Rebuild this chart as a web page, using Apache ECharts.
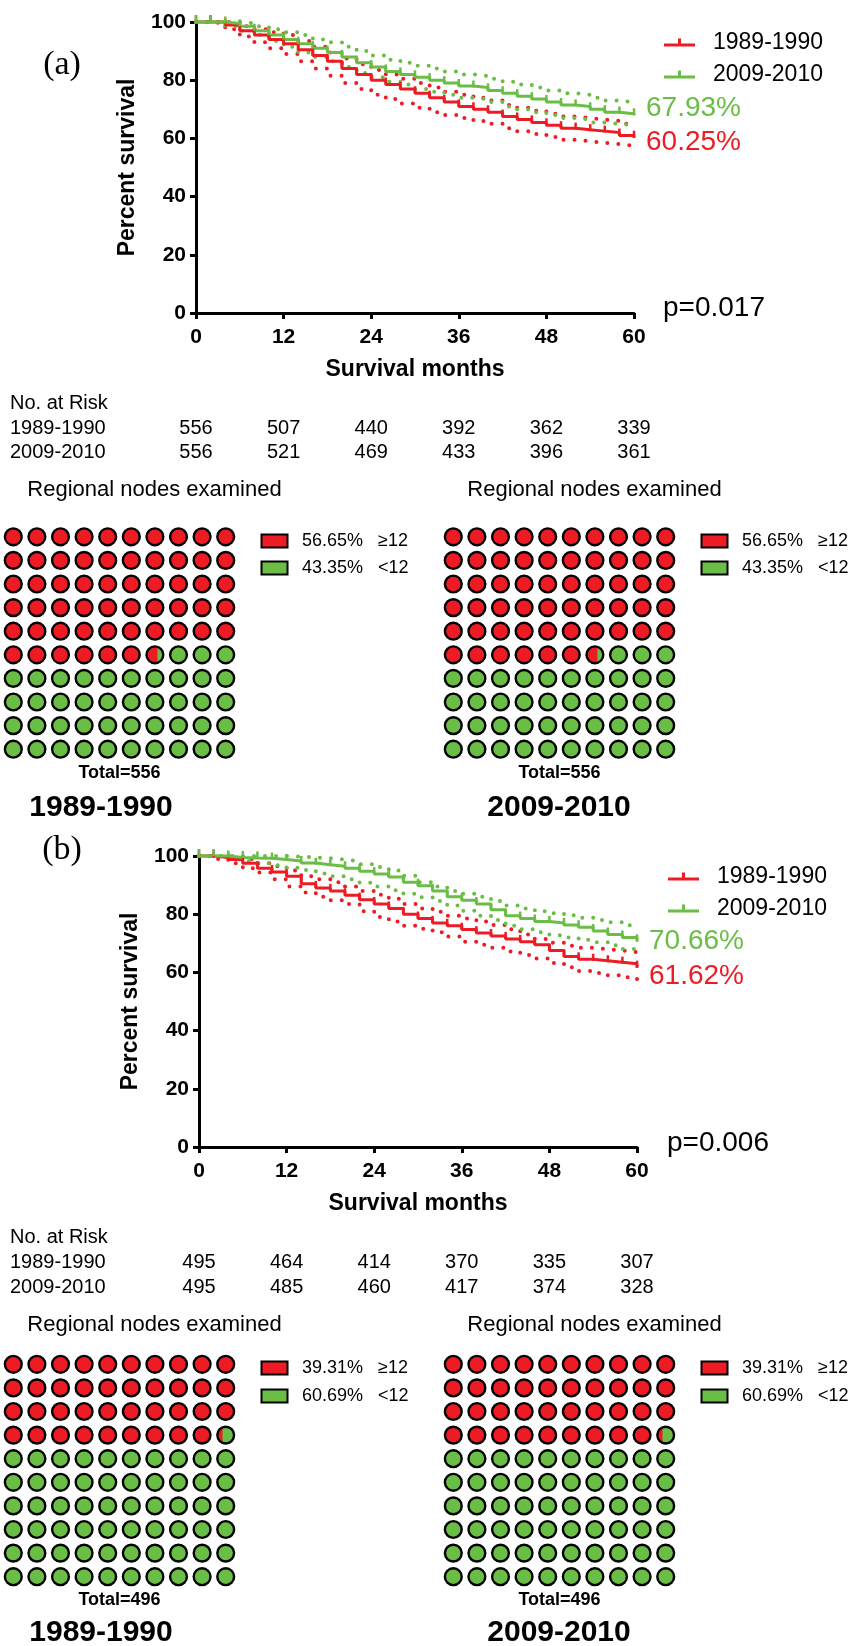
<!DOCTYPE html>
<html>
<head>
<meta charset="utf-8">
<title>Survival by era and regional nodes examined</title>
<script src="https://cdn.jsdelivr.net/npm/echarts@6/dist/echarts.min.js"></script>
<style>
  html, body { margin: 0; padding: 0; background: #fff; }
  #main { width: 856px; height: 1646px; }
</style>
</head>
<body>
<div id="main"></div>
<script>
// ---- data ----
const cohorts = ['1989-1990', '2009-2010'];
const nodeGroups = ['≥12', '<12'];
const months = [0, 2, 4, 6, 8, 10, 12, 14, 16, 18, 20, 22, 24, 26, 28, 30,
  32, 34, 36, 38, 40, 42, 44, 46, 48, 50, 52, 54, 56, 58, 60];
const riskMonths = [0, 12, 24, 36, 48, 60];

// panel (a)
const survA1989 = [100, 100, 99, 97, 95.5, 94, 92.5, 90.5, 88.5, 86.5, 84, 82, 80, 78.5, 77, 75.5,
  74, 72.5, 71, 70, 69, 67.5, 66.5, 65.5, 64.5, 63.5, 63, 62.5, 62, 61, 60.25];
const survA1989Lo = [100, 99.5, 97.5, 95, 93, 91, 89, 86.5, 84, 81.5, 79, 77, 75, 73.5, 72, 70.5,
  69, 68, 67, 66, 65, 63.5, 62.5, 61.5, 60.5, 59.5, 59, 58.5, 58, 57.5, 57];
const survA1989Hi = [100, 100, 100, 98.5, 97.5, 96.5, 95.5, 93.5, 91.5, 89.5, 87.5, 85.5, 83.5, 82, 80.5, 79,
  77.5, 76, 75, 74, 73, 71.5, 70.5, 69.5, 68.5, 67.5, 67, 66.5, 66, 65, 64.5];
const survA2009 = [100, 100, 99.5, 98.5, 97, 95.5, 94, 92.5, 91, 89.5, 88, 86, 84.5, 83, 82, 81,
  80, 79, 78, 77.5, 76.5, 75.5, 74.5, 73.5, 72.5, 71.5, 71, 70, 69, 68.5, 67.93];
const survA2009Lo = [100, 100, 98.5, 97, 95.5, 93.5, 91.5, 89.5, 88, 86.5, 84.5, 82.5, 81, 79.5, 78.5, 77,
  76, 75, 74, 73.5, 72.5, 71, 70, 69, 68, 67, 66.5, 65.5, 65, 64.5, 64];
const survA2009Hi = [100, 100, 100, 99.5, 98.5, 97.5, 96.5, 95.5, 94, 93, 91.5, 90, 88.5, 87, 86, 85,
  84, 83, 82, 81.5, 80.5, 79.5, 78.5, 77.5, 76.5, 75.5, 75, 74, 73, 72.5, 72];
const pValueA = 'p=0.017';
const riskA1989 = [556, 507, 440, 392, 362, 339];
const riskA2009 = [556, 521, 469, 433, 396, 361];
const nodesA1989 = [56.65, 43.35];
const nodesA2009 = [56.65, 43.35];
const totalsA = [556, 556];

// panel (b)
const survB1989 = [100, 99.5, 98.8, 97.5, 95.8, 94.5, 93, 90.5, 89, 88, 86.5, 85, 83.5, 82, 80, 78.5,
  77, 76, 74.7, 73.5, 72.5, 71.5, 70.5, 69.5, 67.5, 65.5, 64.5, 64, 63.5, 63, 61.62];
const survB1989Lo = [100, 99, 97.5, 95.8, 94.3, 92, 89.5, 87.5, 86, 84.8, 83.5, 81, 79, 77.5, 76, 75,
  73.8, 72.3, 70.5, 69.5, 68.5, 67.2, 66, 64.8, 63.2, 61.8, 60.5, 59.8, 59, 58.3, 57.6];
const survB1989Hi = [100, 100, 99.8, 99, 97.5, 96.5, 95, 93, 92, 91, 89.5, 88, 86.7, 85.3, 83.5, 82,
  80.8, 79.5, 78.5, 77.5, 76.3, 74.8, 73, 71.5, 70.2, 69.2, 68.5, 68, 67.5, 67, 66.5];
const survB2009 = [100, 100, 99.5, 99.3, 99.2, 98.8, 98.3, 97.6, 97, 96.5, 95.8, 94.8, 93.8, 92.8, 91, 89.8,
  88, 86, 84.8, 83.5, 81.5, 79.5, 78.5, 77.5, 77, 76.3, 75.5, 74.2, 73, 72, 70.66];
const survB2009Lo = [100, 100, 99, 98.2, 97.5, 96.8, 96, 95.2, 94, 93, 92, 90.8, 89.5, 88.2, 87, 85.8,
  84.5, 83, 81.2, 79.5, 78, 76, 74.8, 73.8, 72.8, 72, 71.2, 70.4, 69.3, 68, 66.8];
const survB2009Hi = [100, 100, 100, 100, 100, 100, 99.8, 99.5, 99.2, 98.8, 98.2, 97.2, 96.2, 95, 93.2, 91,
  89.5, 88, 87, 86, 84.5, 83, 82, 81, 80.3, 79.6, 78.8, 78, 77.2, 76.2, 75.3];
const pValueB = 'p=0.006';
const riskB1989 = [495, 464, 414, 370, 335, 307];
const riskB2009 = [495, 485, 460, 417, 374, 328];
const nodesB1989 = [39.31, 60.69];
const nodesB2009 = [39.31, 60.69];
const totalsB = [496, 496];

// ---- style ----
const RED = '#ED1C24';
const GREEN = '#6ABD45';
const FONT = "'Liberation Sans', Arial, Helvetica, sans-serif";
const SERIF = "'Liberation Serif', 'Times New Roman', serif";
// line with a small censor tick, used as legend icon
const TICK_ICON = 'path://M0,5 L14,5 L14,0 L17,0 L17,5 L31,5 L31,8 L0,8 Z';

// where each panel sits on the page
const panels = [
  {
    tag: '(a)', tagPos: [62, 65], grid: { left: 196, top: 22, width: 438, height: 291 },
    legendPos: [664, 31], pValue: pValueA, pPos: [663, 308], endDy: [5, -7],
    surv: [survA1989, survA2009], lo: [survA1989Lo, survA2009Lo], hi: [survA1989Hi, survA2009Hi],
    risk: [riskA1989, riskA2009], riskY: [403, 428, 452],
    nodes: [nodesA1989, nodesA2009], totals: totalsA,
    regionalY: 490, waffleTop: 525, keyY: [541, 568], totalY: 773, yearY: 808
  },
  {
    tag: '(b)', tagPos: [62, 850], grid: { left: 199, top: 856, width: 438, height: 291 },
    legendPos: [668, 865], pValue: pValueB, pPos: [667, 1143], endDy: [9, 0],
    surv: [survB1989, survB2009], lo: [survB1989Lo, survB2009Lo], hi: [survB1989Hi, survB2009Hi],
    risk: [riskB1989, riskB2009], riskY: [1237, 1262, 1287],
    nodes: [nodesB1989, nodesB2009], totals: totalsB,
    regionalY: 1325, waffleTop: 1352.5, keyY: [1368, 1396], totalY: 1600, yearY: 1633
  }
];
const waffleLeft = [1.5, 441.5];
const cellSize = 23.6;

function pairs(ys) {
  return months.map((m, i) => [m, ys[i]]);
}

function waffleCells(pctHigh) {
  const cells = [];
  for (let k = 0; k < 100; k++) {
    const f = Math.max(0, Math.min(1, pctHigh - k));
    cells.push([k % 10, Math.floor(k / 10), f]);
  }
  return cells;
}

function renderCell(params, api) {
  const c = api.coord([api.value(0), api.value(1)]);
  const f = api.value(2);
  const r = 8.4;
  const children = [{
    type: 'circle', shape: { cx: c[0], cy: c[1], r: r },
    style: { fill: f >= 1 ? RED : GREEN }
  }];
  if (f > 0 && f < 1) {
    // red part left of a vertical chord
    const a0 = Math.acos((-r + 2 * r * f) / r);
    const pts = [];
    const n = 40;
    for (let i = 0; i <= n; i++) {
      const t = a0 + (2 * Math.PI - 2 * a0) * i / n;
      pts.push([c[0] + r * Math.cos(t), c[1] + r * Math.sin(t)]);
    }
    children.push({ type: 'polygon', shape: { points: pts }, style: { fill: RED } });
  }
  children.push({
    type: 'circle', shape: { cx: c[0], cy: c[1], r: r },
    style: { fill: null, stroke: '#000', lineWidth: 2.4 }
  });
  return { type: 'group', children: children };
}

const grids = [];
const xAxes = [];
const yAxes = [];
const series = [];
const legends = [];

panels.forEach((p, pi) => {
  const gi = grids.length;
  grids.push(p.grid);
  xAxes.push({
    gridIndex: gi, type: 'value', min: 0, max: 60, interval: 12,
    name: 'Survival months', nameLocation: 'middle', nameGap: 45,
    nameTextStyle: { fontFamily: FONT, fontWeight: 'bold', fontSize: 23, color: '#000' },
    axisLine: { lineStyle: { color: '#000', width: 3 } },
    axisTick: { length: 6, lineStyle: { color: '#000', width: 3 } },
    axisLabel: { fontFamily: FONT, fontWeight: 'bold', fontSize: 21, color: '#000', margin: 14 },
    splitLine: { show: false }
  });
  yAxes.push({
    gridIndex: gi, type: 'value', min: 0, max: 100, interval: 20,
    name: 'Percent survival', nameLocation: 'middle', nameGap: 57, nameRotate: 90,
    nameTextStyle: { fontFamily: FONT, fontWeight: 'bold', fontSize: 23, color: '#000' },
    axisLine: { show: true, lineStyle: { color: '#000', width: 3 } },
    axisTick: { show: true, length: 6, lineStyle: { color: '#000', width: 3 } },
    axisLabel: { fontFamily: FONT, fontWeight: 'bold', fontSize: 21, color: '#000', margin: 10 },
    splitLine: { show: false }
  });

  cohorts.forEach((name, ci) => {
    const color = ci === 0 ? RED : GREEN;
    [p.lo[ci], p.hi[ci]].forEach((band) => {
      series.push({
        name: name + ' CI', type: 'line', xAxisIndex: gi, yAxisIndex: gi,
        data: pairs(band), step: 'end', showSymbol: false, silent: true, clip: false,
        lineStyle: { color: color, width: 4, type: [0, 11], cap: 'round' },
        z: 2
      });
    });
  });
  cohorts.forEach((name, ci) => {
    const color = ci === 0 ? RED : GREEN;
    series.push({
      name: name, type: 'line', xAxisIndex: gi, yAxisIndex: gi,
      data: pairs(p.surv[ci]), step: 'end', clip: false,
      color: color,
      symbol: 'rect', symbolSize: [2.5, 7], symbolOffset: [0, -3.5], showSymbol: true,
      itemStyle: { color: color },
      lineStyle: { color: color, width: 3 },
      endLabel: {
        show: true, distance: 12, offset: [0, p.endDy[ci]],
        formatter: (d) => d.value[1].toFixed(2) + '%',
        fontFamily: FONT, fontSize: 28, color: color
      },
      z: 3
    });
  });

  legends.push({
    data: cohorts, orient: 'vertical', left: p.legendPos[0], top: p.legendPos[1],
    icon: TICK_ICON, itemWidth: 31, itemHeight: 8, itemGap: 9, padding: 0,
    selectedMode: false,
    textStyle: { fontFamily: FONT, fontSize: 23, color: '#000', padding: [0, 0, 0, 13] }
  });

  // two waffles per panel
  cohorts.forEach((name, ci) => {
    const wi = grids.length;
    grids.push({ left: waffleLeft[ci], top: p.waffleTop, width: cellSize * 10, height: cellSize * 10 });
    xAxes.push({ gridIndex: wi, type: 'value', min: -0.5, max: 9.5, show: false });
    yAxes.push({ gridIndex: wi, type: 'value', min: -0.5, max: 9.5, inverse: true, show: false });
    series.push({
      type: 'custom', xAxisIndex: wi, yAxisIndex: wi, silent: true,
      data: waffleCells(p.nodes[ci][0]), renderItem: renderCell
    });
  });
});

const chart = echarts.init(document.getElementById('main'), null, { renderer: 'canvas' });
chart.setOption({
  animation: false,
  backgroundColor: '#fff',
  grid: grids,
  xAxis: xAxes,
  yAxis: yAxes,
  legend: legends,
  series: series
});

// texts: panel tags, p values, number at risk table, waffle keys and captions
function txt(x, y, text, opts) {
  return {
    type: 'text', x: x, y: y, silent: true,
    style: Object.assign({
      text: text, fill: '#000', fontFamily: FONT, fontSize: 20,
      textAlign: 'left', textVerticalAlign: 'middle'
    }, opts || {})
  };
}

const graphics = [];
panels.forEach((p, pi) => {
  graphics.push(txt(p.tagPos[0], p.tagPos[1], p.tag,
    { fontFamily: SERIF, fontSize: 34, textAlign: 'center' }));
  graphics.push(txt(p.pPos[0], p.pPos[1], p.pValue, { fontSize: 28 }));

  graphics.push(txt(10, p.riskY[0], 'No. at Risk', { fontSize: 20 }));
  cohorts.forEach((name, ci) => {
    const y = p.riskY[ci + 1];
    graphics.push(txt(10, y, name, { fontSize: 20 }));
    riskMonths.forEach((m, k) => {
      const x = chart.convertToPixel({ xAxisIndex: pi * 3 }, m);
      graphics.push(txt(x, y, String(p.risk[ci][k]), { fontSize: 20, textAlign: 'center' }));
    });
  });

  cohorts.forEach((name, ci) => {
    const left = waffleLeft[ci];
    const mid = left + cellSize * 5;
    graphics.push(txt(left + 153, p.regionalY, 'Regional nodes examined', { fontSize: 22, textAlign: 'center' }));
    nodeGroups.forEach((g, gi) => {
      const y = p.keyY[gi];
      graphics.push({
        type: 'rect', silent: true,
        shape: { x: left + 260, y: y - 6.5, width: 26, height: 13 },
        style: { fill: gi === 0 ? RED : GREEN, stroke: '#000', lineWidth: 2 }
      });
      graphics.push(txt(left + 300.5, y, p.nodes[ci][gi].toFixed(2) + '%', { fontSize: 18 }));
      graphics.push(txt(left + 376.5, y, g, { fontSize: 18 }));
    });
    graphics.push(txt(mid, p.totalY, 'Total=' + p.totals[ci],
      { fontSize: 18, fontWeight: 'bold', textAlign: 'center' }));
    graphics.push(txt(ci === 0 ? 101 : 559, p.yearY, name,
      { fontSize: 30, fontWeight: 'bold', textAlign: 'center' }));
  });
});

chart.setOption({ graphic: graphics });
</script>
</body>
</html>
